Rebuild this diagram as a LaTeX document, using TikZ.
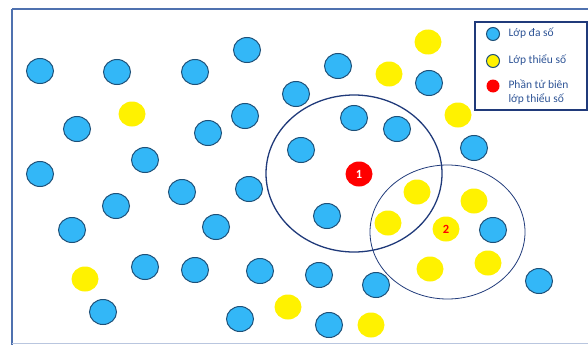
\documentclass[tikz,border=0pt]{standalone}
\usepackage{fontspec}
\setmainfont{Carlito}
\usetikzlibrary{shapes.geometric}
\definecolor{majblue}{RGB}{51,183,247}
\definecolor{majedge}{RGB}{30,80,120}
\definecolor{ringnavy}{RGB}{32,58,122}
\definecolor{frameblue}{RGB}{79,113,175}
\definecolor{legtext}{RGB}{46,84,150}

\begin{document}
\begin{tikzpicture}[x=1pt,y=-1pt,
  major/.style={ellipse, draw=majedge, line width=1pt, fill=majblue,
    minimum width=27pt, minimum height=25pt, inner sep=0pt},
  minor/.style={ellipse, fill=yellow, minimum width=27pt, minimum height=25pt, inner sep=0pt},
  ring/.style={ellipse, draw=ringnavy, inner sep=0pt},
  legmark/.style={circle, minimum size=13pt, inner sep=0pt},
  legtxt/.style={anchor=west, text=legtext, font=\fontsize{11.5}{13.5}\selectfont, align=left}]
\useasboundingbox (0,0) rectangle (588,345);

% Frame
\draw[frameblue, line width=1.2pt] (12,9) -- (588,9);
\draw[frameblue, line width=1.2pt] (12,9) -- (12,345);
\draw[frameblue!40, line width=0.8pt] (12,343.5) -- (588,343.5);

% Majority class
\foreach \x/\y [count=\i] in {40/71, 117/72, 195/72, 247/50, 296/94, 77/129, 208/133,
  245/116, 145/160, 40/174, 182/192, 249/189, 116/206, 72/230, 216/227, 145/267,
  195/270, 260/271, 103/312, 240/319, 338/66, 429/83, 354/118, 397/129, 301/150,
  474/148, 327/216, 493/230, 319/275, 376/285, 539/281, 329/325}
  \node[major] (maj\i) at (\x,\y) {};

% Minority class
\foreach \x/\y [count=\i] in {132/114, 85/279, 288/307, 428/42, 389/74, 458/115,
  417/192, 474/201, 388/223, 430/269, 488/263, 371/325}
  \node[minor] (min\i) at (\x,\y) {};

% Borderline points
\node[ellipse, fill=red, minimum width=27pt, minimum height=25pt, inner sep=0pt,
  text=white, font=\bfseries\fontsize{12.5}{12.5}\selectfont] (bord1) at (359,174) {1};
\node[minor, text=red, font=\bfseries\fontsize{12.5}{12.5}\selectfont] (bord2) at (446,229) {2};

% Neighbourhoods
\node[ring, line width=1.3pt, minimum width=176pt, minimum height=157pt] (nbr1) at (354,173.5) {};
\node[ring, line width=0.8pt, minimum width=155pt, minimum height=134pt] (nbr2) at (447.5,232) {};

% Legend
\draw[ringnavy, line width=1.2pt, fill=white] (475,22) rectangle (587,110);
\node[legmark, draw=majedge, line width=1pt, fill=majblue] (legmaj) at (493,34) {};
\node[legtxt] at (505,33) {Lớp đa số};
\node[legmark, draw=majedge, line width=1pt, fill=yellow] (legmin) at (493,61) {};
\node[legtxt] at (505,60) {Lớp thiểu số};
\node[legmark, fill=red] (legbord) at (493,86) {};
\node[legtxt] at (505,92) {Phần tử biên\\lớp thiểu số};
\end{tikzpicture}
\end{document}
